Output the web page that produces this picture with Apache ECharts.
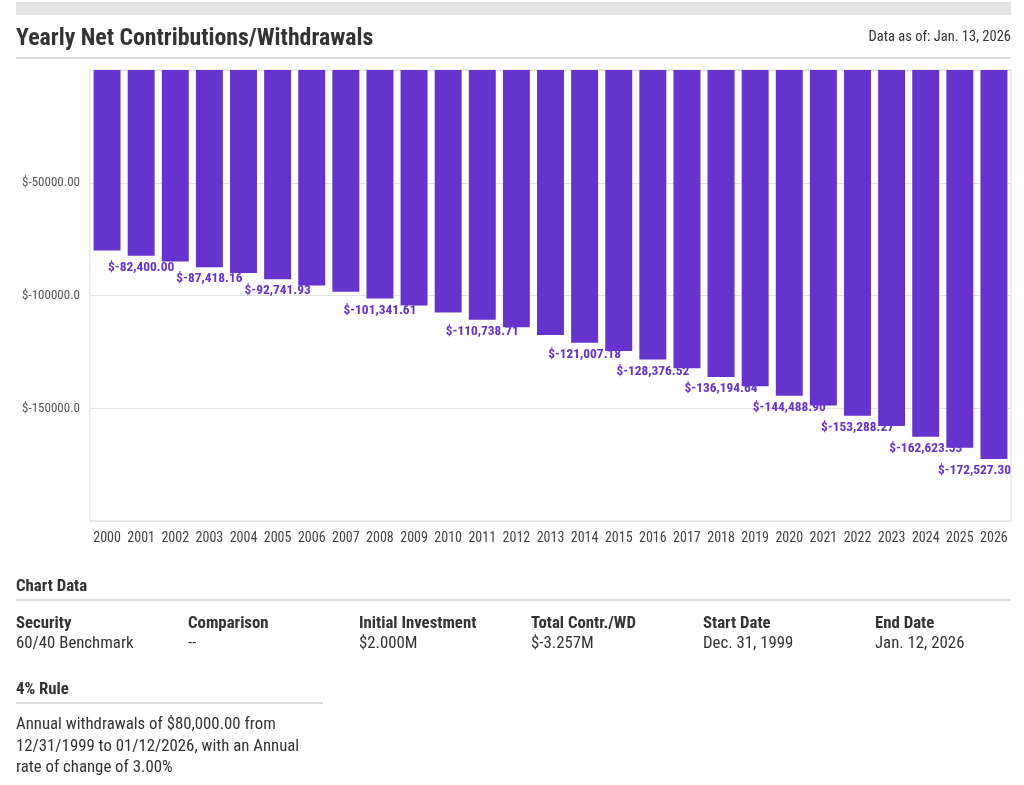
<!DOCTYPE html>
<html>
<head>
<meta charset="utf-8">
<script src="https://cdn.jsdelivr.net/npm/echarts@6/dist/echarts.min.js"></script>
<style>
  html, body { margin:0; padding:0; background:#fff; }
  body { width:1024px; height:785px; position:relative; overflow:hidden;
         font-family:'Roboto Condensed','Liberation Sans Narrow','DejaVu Sans Condensed',Roboto,sans-serif; color:#333; }
  #chart { position:absolute; left:0; top:0; width:1024px; height:785px; }
  .abs { position:absolute; white-space:nowrap; }
  .topbar { left:16px; top:2px; width:995px; height:13px; background:#e4e4e4; }
  .title { left:16px; top:22px; font-size:23.8px; line-height:30px; font-weight:bold; color:#333; }
  .asof { right:13px; top:28px; font-size:14.5px; line-height:18px; color:#333; }
  .rule { height:2px; background:#dddddd; }
  .h { font-size:16.8px; line-height:20px; font-weight:bold; color:#333; }
  .v { font-size:16.8px; line-height:20px; color:#333; }
</style>
</head>
<body>
<div id="chart"></div>
<div class="abs topbar"></div>
<div class="abs title">Yearly Net Contributions/Withdrawals</div>
<div class="abs asof">Data as of: Jan. 13, 2026</div>
<div class="abs rule" style="left:16px;top:57px;width:995px;"></div>

<div class="abs h" style="left:16px;top:575px;">Chart Data</div>
<div class="abs rule" style="left:16px;top:599px;width:995px;"></div>
<div id="cols"></div>

<div class="abs h" style="left:16px;top:678px;">4% Rule</div>
<div class="abs rule" style="left:16px;top:702px;width:307px;"></div>
<div class="abs v" style="left:16px;top:713px;line-height:21.5px;white-space:normal;width:330px;">Annual withdrawals of $80,000.00 from<br>12/31/1999 to 01/12/2026, with an Annual<br>rate of change of 3.00%</div>

<script>
const years = ['2000','2001','2002','2003','2004','2005','2006','2007','2008','2009','2010','2011','2012','2013','2014','2015','2016','2017','2018','2019','2020','2021','2022','2023','2024','2025','2026'];
const netContrib = [-80000.00,-82400.00,-84872.00,-87418.16,-90040.70,-92741.93,-95524.18,-98389.91,-101341.61,-104381.85,-107513.31,-110738.71,-114060.87,-117482.70,-121007.18,-124637.39,-128376.52,-132227.81,-136194.64,-140280.48,-144488.90,-148823.57,-153288.27,-157886.92,-162623.53,-167502.23,-172527.30];
const yTickValues = [-50000, -100000, -150000];
const yTickLabels = ['$-50000.00', '$-100000.0', '$-150000.0'];
const infoHeaders = ['Security','Comparison','Initial Investment','Total Contr./WD','Start Date','End Date'];
const infoValues = ['60/40 Benchmark','--','$2.000M','$-3.257M','Dec. 31, 1999','Jan. 12, 2026'];

const FONT = "'Roboto Condensed','Liberation Sans Narrow','DejaVu Sans Condensed',Roboto,sans-serif";
const PURPLE = '#6633cc';
const PLOT_RIGHT = 1011;

// info columns
const colsEl = document.getElementById('cols');
const colX = [16,188,359,531,703,875];
infoHeaders.forEach((h, i) => {
  const a = document.createElement('div'); a.className = 'abs h'; a.style.left = colX[i]+'px'; a.style.top = '612px'; a.textContent = h; colsEl.appendChild(a);
  const b = document.createElement('div'); b.className = 'abs v'; b.style.left = colX[i]+'px'; b.style.top = '632px'; b.textContent = infoValues[i]; colsEl.appendChild(b);
});

const chart = echarts.init(document.getElementById('chart'), null, {renderer:'canvas'});
chart.setOption({
  animation: false,
  grid: { left: 90, right: 13, top: 70, bottom: 264, show: true, borderColor: '#dddddd', borderWidth: 1 },
  xAxis: {
    type: 'category', data: years, position: 'bottom',
    axisLine: { show: false }, axisTick: { show: false },
    axisLabel: { color: '#444', fontSize: 14, fontFamily: FONT, margin: 10, interval: 0 }
  },
  yAxis: {
    type: 'value', min: -200000, max: 0, interval: 50000,
    axisLine: { show: false }, axisTick: { show: false },
    splitLine: { lineStyle: { color: '#e3e3e3' } },
    axisLabel: {
      color: '#555', fontSize: 13, fontFamily: FONT, margin: 10,
      showMinLabel: false, showMaxLabel: false,
      formatter: v => { const i = yTickValues.indexOf(v); return i >= 0 ? yTickLabels[i] : ''; }
    }
  },
  series: [{
    type: 'bar', data: netContrib, barWidth: '79%',
    itemStyle: { color: PURPLE },
    label: {
      show: true, position: 'bottom', distance: 4, color: PURPLE, fontSize: 13.4, lineHeight: 16, fontWeight: 'bold', fontFamily: FONT,
      formatter: p => '$' + p.value.toLocaleString('en-US', {minimumFractionDigits: 2, maximumFractionDigits: 2})
    },
    labelLayout: params => {
      const r = params.labelRect;
      const over = r.x + r.width - PLOT_RIGHT;
      return { hideOverlap: true, dx: over > 0 ? -over : 0 };
    }
  }]
});
</script>
</body>
</html>
